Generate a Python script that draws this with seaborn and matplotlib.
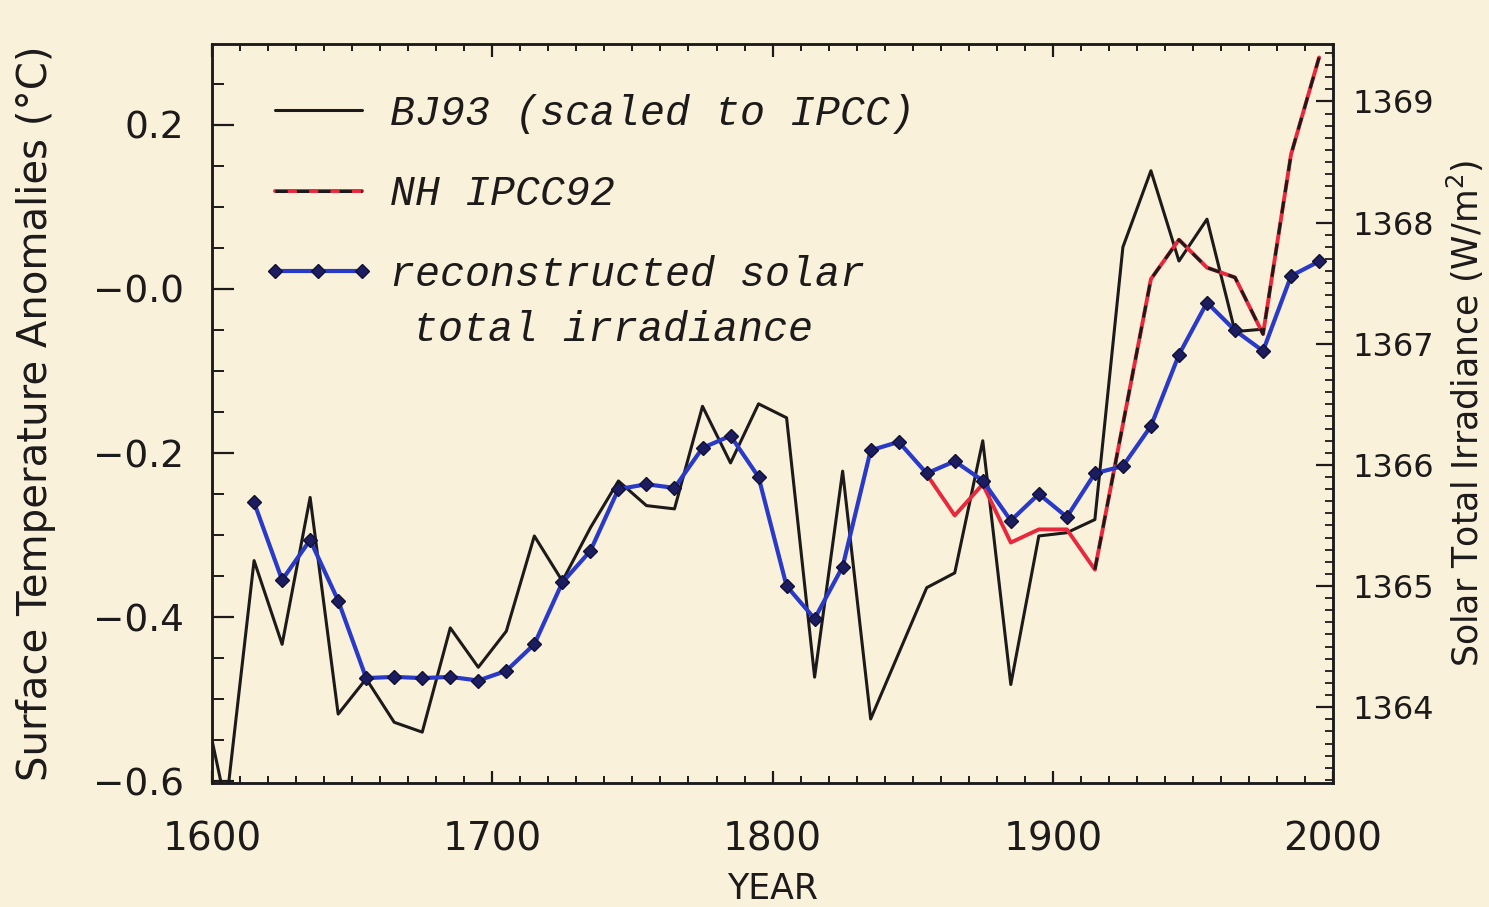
import matplotlib
matplotlib.use("Agg")
import matplotlib.pyplot as plt
from matplotlib.ticker import MultipleLocator
from matplotlib.lines import Line2D
from matplotlib.legend_handler import HandlerLine2D
import seaborn as sns

# Decadal values
bj93_years = [1600, 1605, 1615, 1625, 1635, 1645, 1655, 1665, 1675, 1685,
              1695, 1705, 1715, 1725, 1735, 1745, 1755, 1765, 1775, 1785,
              1795, 1805, 1815, 1825, 1835, 1845, 1855, 1865, 1875, 1885,
              1895, 1905, 1915, 1925, 1935, 1945, 1955, 1965, 1975]
bj93_temp = [-0.55, -0.63, -0.331, -0.433, -0.254, -0.518, -0.475, -0.528, -0.540, -0.413,
             -0.461, -0.417, -0.301, -0.356, -0.291, -0.234, -0.264, -0.268, -0.143, -0.212,
             -0.140, -0.157, -0.473, -0.222, -0.524, -0.444, -0.364, -0.346, -0.185, -0.482,
             -0.301, -0.297, -0.281, 0.051, 0.144, 0.034, 0.085, -0.052, -0.049]

ipcc_years = [1855, 1865, 1875, 1885, 1895, 1905, 1915, 1925, 1935, 1945,
              1955, 1965, 1975, 1985, 1995]
ipcc_temp = [-0.226, -0.276, -0.238, -0.309, -0.293, -0.293, -0.342, -0.165, 0.012, 0.060,
             0.026, 0.014, -0.055, 0.164, 0.282]

solar_years = [1615, 1625, 1635, 1645, 1655, 1665, 1675, 1685, 1695, 1705,
               1715, 1725, 1735, 1745, 1755, 1765, 1775, 1785, 1795, 1805,
               1815, 1825, 1835, 1845, 1855, 1865, 1875, 1885, 1895, 1905,
               1915, 1925, 1935, 1945, 1955, 1965, 1975, 1985, 1995]
solar_irr = [1365.69, 1365.05, 1365.38, 1364.88, 1364.24, 1364.25, 1364.24, 1364.25, 1364.22, 1364.30,
             1364.52, 1365.03, 1365.29, 1365.80, 1365.84, 1365.81, 1366.14, 1366.24, 1365.90, 1365.00,
             1364.73, 1365.16, 1366.12, 1366.19, 1365.93, 1366.03, 1365.87, 1365.54, 1365.76, 1365.57,
             1365.93, 1365.99, 1366.32, 1366.91, 1367.34, 1367.11, 1366.94, 1367.56, 1367.68]

temp_ticks = [-0.6, -0.4, -0.2, 0.0, 0.2]
temp_ticklabels = ["\u22120.6", "\u22120.4", "\u22120.2", "\u22120.0", "0.2"]
year_ticks = [1600, 1700, 1800, 1900, 2000]
irr_ticks = [1364, 1365, 1366, 1367, 1368, 1369]

paper = "#faf1da"
ink = "#1c1a1a"
legend_font = {"family": "Liberation Mono", "style": "italic", "size": 30}

sns.set_style("ticks")
plt.rcParams["font.family"] = ["DejaVu Sans"]
plt.rcParams["axes.linewidth"] = 1.8

fig = plt.figure(figsize=(14.89, 9.07), dpi=100, facecolor=paper)
ax = fig.add_axes([0.1424, 0.1367, 0.7529, 0.8153])
ax.set_facecolor(paper)

# temperature curves on the left axis
sns.lineplot(x=bj93_years, y=bj93_temp, ax=ax, color=ink, lw=2.2, sort=False)
bj_line = ax.lines[-1]
sns.lineplot(x=ipcc_years, y=ipcc_temp, ax=ax, color="#e8283c", lw=2.8)
red_line = ax.lines[-1]
sns.lineplot(x=ipcc_years[6:], y=ipcc_temp[6:], ax=ax, color=ink, lw=2.2,
             linestyle=(0, (4, 3)))
dash_line = ax.lines[-1]

ax.set_xlim(1600, 2000)
ax.set_ylim(-0.602, 0.299)
ax.set_xticks(year_ticks)
ax.xaxis.set_minor_locator(MultipleLocator(10))
ax.set_yticks(temp_ticks)
ax.set_yticklabels(temp_ticklabels)
ax.yaxis.set_minor_locator(MultipleLocator(0.05))
ax.tick_params(axis="x", which="both", direction="in", top=True, bottom=True,
               colors=ink, labelsize=28, pad=27)
ax.tick_params(axis="x", which="major", length=9, width=1.6)
ax.tick_params(axis="x", which="minor", length=5, width=1.4)
ax.tick_params(axis="y", which="both", direction="in", left=True, right=False,
               colors=ink, labelsize=27, pad=20)
ax.tick_params(axis="y", which="major", length=16, width=1.6)
ax.tick_params(axis="y", which="minor", length=8.5, width=1.4)
ax.set_xlabel("YEAR", fontsize=25, color=ink, labelpad=10)
ax.set_ylabel("Surface Temperature Anomalies (\u00b0C)", fontsize=29, color=ink,
              labelpad=27)

# solar irradiance on the right axis
ax2 = ax.twinx()
sns.lineplot(x=solar_years, y=solar_irr, ax=ax2, color="#2a3ac8", lw=3.0,
             marker="D", markersize=7.5, markerfacecolor="#1c1c60",
             markeredgecolor="#111133", markeredgewidth=1.0)
solar_line = ax2.lines[-1]
ax2.set_ylim(1363.374, 1369.478)
ax2.set_yticks(irr_ticks)
ax2.yaxis.set_minor_locator(MultipleLocator(0.1))
ax2.tick_params(axis="y", which="both", direction="in", right=True, left=False,
                colors=ink, labelsize=23, pad=14)
ax2.tick_params(axis="y", which="major", length=12, width=1.6)
ax2.tick_params(axis="y", which="minor", length=5.5, width=1.3)
ax2.set_ylabel("Solar Total Irradiance (W/m$^2$)", fontsize=25, color=ink,
               labelpad=8)
for s in ax2.spines.values():
    s.set_linewidth(1.8)
    s.set_color(ink)

leg = ax2.legend(handles=[bj_line, (red_line, dash_line), solar_line],
                 labels=["BJ93 (scaled to IPCC)", "NH IPCC92", "reconstructed solar"],
                 loc="upper left", bbox_to_anchor=(0.056, 0.932), frameon=False,
                 prop=legend_font, handlelength=2.09, handletextpad=0.67,
                 labelspacing=0.97, borderpad=0, borderaxespad=0,
                 handler_map={Line2D: HandlerLine2D(marker_pad=0, numpoints=3)})
for t in leg.get_texts():
    t.set_color(ink)
ax2.text(0.179, 0.613, "total irradiance", transform=ax2.transAxes,
         color=ink, va="center", ha="left", **legend_font)

fig.savefig("out.png", dpi=100, facecolor=paper)
